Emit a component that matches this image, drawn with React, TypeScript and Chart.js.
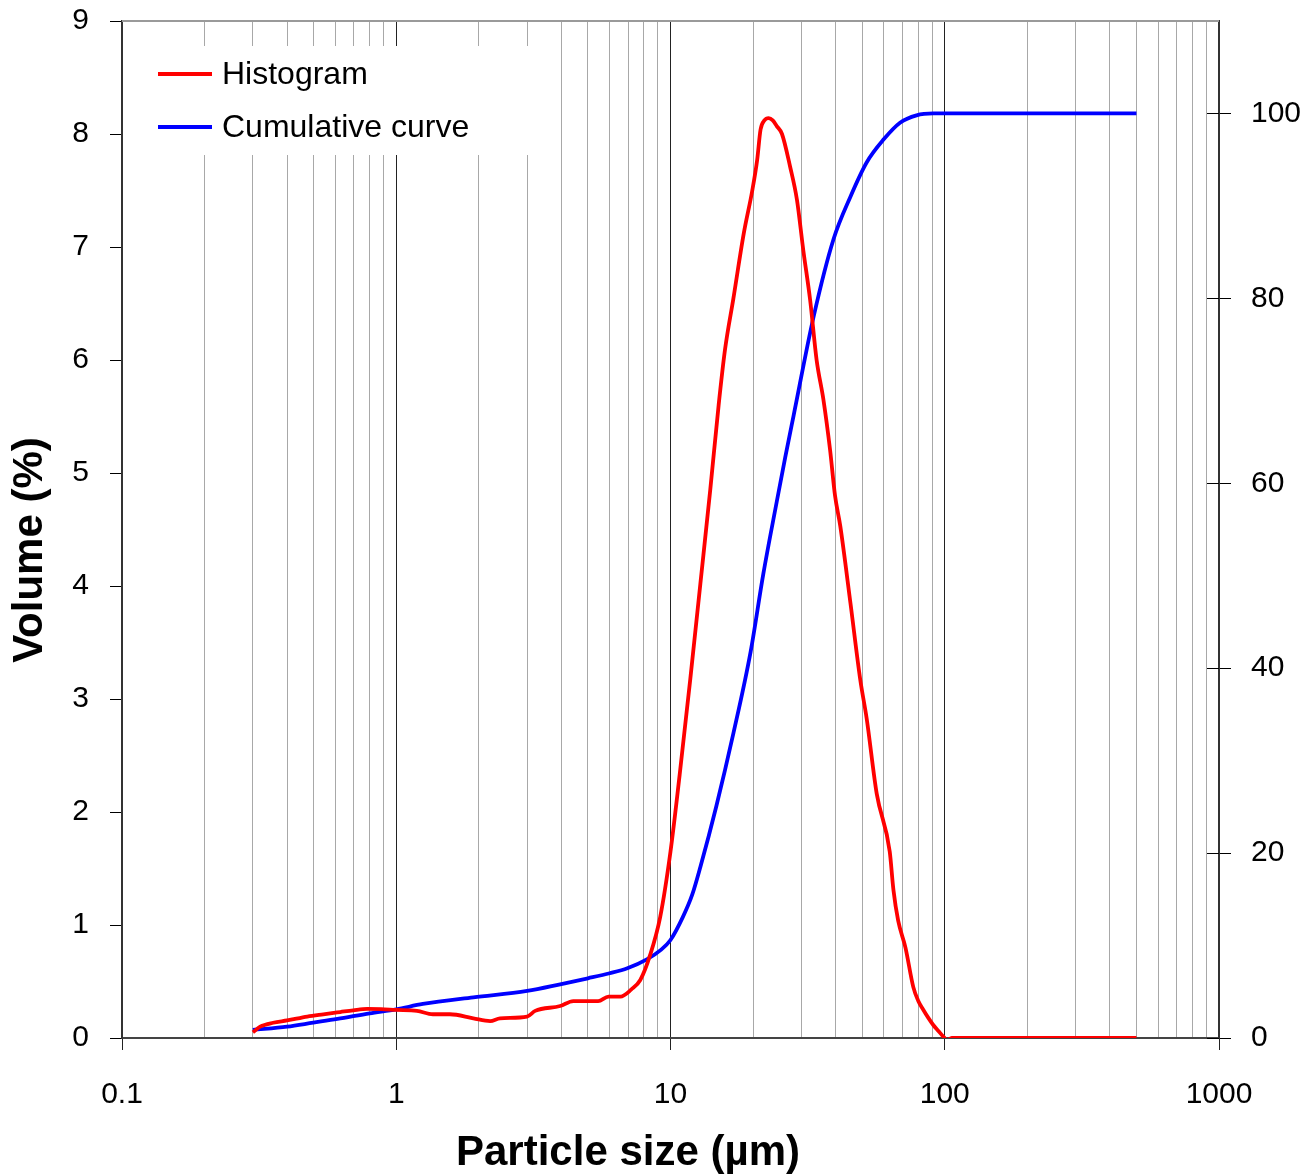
import React, { useEffect, useRef } from "react";
import { Chart, registerables } from "chart.js";

Chart.register(...registerables);

// Particle size (µm) and volume (%) for the histogram
const histSize = [0.3, 0.319, 0.356, 0.4, 0.474, 0.542, 0.625, 0.697, 0.784, 0.88, 1.0, 1.19, 1.36, 1.57, 1.91, 2.2, 2.39, 3.0, 3.21, 3.96, 4.42, 5.45, 5.94, 6.57, 7.2, 7.76, 8.43, 9.17, 10.0, 10.8, 11.8, 12.85, 13.96, 14.98, 15.8, 16.97, 18.5, 19.87, 20.7, 21.3, 22.0, 22.8, 23.6, 24.4, 25.5, 27.3, 28.9, 30.5, 32.3, 34.1, 36.1, 38.2, 39.8, 41.6, 45.3, 49.2, 51.9, 56.5, 63.0, 65.0, 67.6, 71.9, 76.8, 80.0, 83.5, 87.0, 90.8, 95.0, 99.0, 102.0, 106.0, 150.0, 250.0, 500.0];
const histVolume = [0.05, 0.1, 0.135, 0.155, 0.19, 0.21, 0.23, 0.245, 0.257, 0.255, 0.248, 0.24, 0.21, 0.21, 0.174, 0.15, 0.174, 0.19, 0.24, 0.283, 0.327, 0.327, 0.366, 0.366, 0.43, 0.513, 0.735, 1.07, 1.65, 2.33, 3.17, 4.02, 4.85, 5.6, 6.09, 6.55, 7.12, 7.5, 7.77, 8.04, 8.12, 8.14, 8.12, 8.07, 8.0, 7.71, 7.42, 6.97, 6.53, 6.0, 5.65, 5.2, 4.8, 4.53, 3.85, 3.17, 2.83, 2.16, 1.65, 1.31, 1.04, 0.8, 0.45, 0.33, 0.25, 0.18, 0.115, 0.06, 0.01, -0.02, 0.0, 0.0, 0.0, 0.0];

// Particle size (µm) and cumulative volume (%)
const cumSize = [0.3, 0.4, 0.498, 0.61, 0.8, 1.0, 1.25, 1.91, 3.0, 3.96, 5.0, 6.0, 6.96, 8.2, 9.2, 10.0, 11.1, 12.0, 12.85, 14.7, 16.97, 19.6, 21.8, 24.4, 26.2, 28.1, 33.3, 39.3, 45.3, 51.9, 59.9, 68.7, 78.9, 90.8, 150.0, 250.0, 500.0];
const cumVolume = [0.87, 1.23, 1.66, 2.06, 2.67, 3.1, 3.68, 4.4, 5.09, 5.81, 6.46, 7.0, 7.54, 8.5, 9.5, 10.6, 13.1, 15.5, 18.5, 25.1, 33.0, 41.8, 50.2, 58.0, 62.8, 67.3, 78.1, 86.4, 91.0, 94.7, 97.2, 99.0, 99.8, 100.0, 100.0, 100.0, 100.0];

// Axis ticks
const xGridValues = [0.1, 0.2, 0.3, 0.4, 0.5, 0.6, 0.7, 0.8, 0.9, 1, 2, 3, 4, 5, 6, 7, 8, 9, 10, 20, 30, 40, 50, 60, 70, 80, 90, 100, 200, 300, 400, 500, 600, 700, 800, 900, 1000];
const xTickLabels = ["0.1", "1", "10", "100", "1000"];
const yLeftTicks = [0, 1, 2, 3, 4, 5, 6, 7, 8, 9];
const yRightTicks = [0, 20, 40, 60, 80, 100];

const seriesNames = ["Histogram", "Cumulative curve"];
const FONT = "'Liberation Sans', Arial, Helvetica, sans-serif";

const isDecade = (v: number) => {
  const l = Math.log10(v);
  return Math.abs(l - Math.round(l)) < 1e-9;
};

const extrasPlugin = {
  id: "extras",
  afterDraw(chart: any) {
    const { ctx, chartArea } = chart;
    const y2 = chart.scales.y2;
    ctx.save();
    // top border
    ctx.strokeStyle = "#9a9a9a";
    ctx.lineWidth = 2;
    ctx.beginPath();
    ctx.moveTo(chartArea.left, chartArea.top);
    ctx.lineTo(chartArea.right, chartArea.top);
    ctx.stroke();
    // inner part of right-axis ticks
    ctx.strokeStyle = "#000";
    ctx.lineWidth = 1;
    for (const v of yRightTicks) {
      const py = Math.round(y2.getPixelForValue(v)) + 0.5;
      ctx.beginPath();
      ctx.moveTo(chartArea.right - 12, py);
      ctx.lineTo(chartArea.right, py);
      ctx.stroke();
    }
    // legend
    ctx.fillStyle = "#fff";
    ctx.fillRect(146, 46, 402, 109);
    const colors = ["#ff0000", "#0000ff"];
    const ys = [74, 127];
    ctx.font = `32px ${FONT}`;
    ctx.textBaseline = "middle";
    ctx.textAlign = "left";
    for (let i = 0; i < 2; i++) {
      ctx.strokeStyle = colors[i];
      ctx.lineWidth = 4;
      ctx.beginPath();
      ctx.moveTo(158, ys[i]);
      ctx.lineTo(212, ys[i]);
      ctx.stroke();
      ctx.fillStyle = "#000";
      ctx.fillText(seriesNames[i], 222, ys[i] + 1);
    }
    // axis titles
    ctx.font = `bold 42px ${FONT}`;
    ctx.fillStyle = "#000";
    ctx.textAlign = "center";
    ctx.textBaseline = "alphabetic";
    ctx.fillText("Particle size (µm)", 628, 1165);
    ctx.translate(42, 550);
    ctx.rotate(-Math.PI / 2);
    ctx.fillText("Volume (%)", 0, 0);
    ctx.restore();
  },
};

export default function App() {
  const ref = useRef<HTMLCanvasElement | null>(null);
  useEffect(() => {
    if (!ref.current) return;
    Chart.defaults.font.family = FONT;
    const chart = new Chart(ref.current, {
      type: "line",
      data: {
        datasets: [
          {
            label: seriesNames[0],
            data: histSize.map((x, i) => ({ x, y: histVolume[i] })),
            borderColor: "#ff0000",
            borderWidth: 3.8,
            pointRadius: 0,
            cubicInterpolationMode: "monotone",
            yAxisID: "y",
          },
          {
            label: seriesNames[1],
            data: cumSize.map((x, i) => ({ x, y: cumVolume[i] })),
            borderColor: "#0000ff",
            borderWidth: 3.8,
            pointRadius: 0,
            cubicInterpolationMode: "monotone",
            yAxisID: "y2",
          },
        ],
      },
      options: {
        animation: false,
        responsive: false,
        maintainAspectRatio: false,
        layout: { padding: { top: 21, left: 0, right: 0, bottom: 0 } },
        plugins: { legend: { display: false }, tooltip: { enabled: false } },
        scales: {
          x: {
            type: "logarithmic",
            min: 0.1,
            max: 1000,
            afterBuildTicks: (scale: any) => {
              scale.ticks = xGridValues.map((v) => ({ value: v, major: isDecade(v) }));
            },
            afterFit: (scale: any) => {
              scale.height = 138;
              scale.paddingLeft = 0;
              scale.paddingRight = 0;
            },
            ticks: {
              autoSkip: false,
              maxRotation: 0,
              padding: 27,
              color: "#000",
              font: { size: 30 },
              callback: (v: any) => {
                const n = Number(v);
                if (!isDecade(n)) return "";
                const idx = Math.round(Math.log10(n)) + 1;
                return xTickLabels[idx];
              },
            },
            grid: {
              color: (c: any) => (c.tick && isDecade(c.tick.value) ? "#222" : "#a8a8a8"),
              tickColor: (c: any) => (c.tick && isDecade(c.tick.value) ? "#222" : "rgba(0,0,0,0)"),
              lineWidth: 1,
              tickLength: 12,
            },
            border: { color: "#444", width: 2 },
          },
          y: {
            type: "linear",
            position: "left",
            min: 0,
            max: 9,
            afterBuildTicks: (scale: any) => {
              scale.ticks = yLeftTicks.map((v) => ({ value: v }));
            },
            afterFit: (scale: any) => {
              scale.width = 122;
              scale.paddingTop = 0;
              scale.paddingBottom = 0;
            },
            ticks: { padding: 21, color: "#000", font: { size: 30 } },
            grid: { drawOnChartArea: false, tickLength: 12, color: "#000" },
            border: { color: "#333", width: 2 },
          },
          y2: {
            type: "linear",
            position: "right",
            min: 0,
            max: 110,
            afterBuildTicks: (scale: any) => {
              scale.ticks = yRightTicks.map((v) => ({ value: v }));
            },
            afterFit: (scale: any) => {
              scale.width = 97;
              scale.paddingTop = 0;
              scale.paddingBottom = 0;
            },
            ticks: { padding: 20, color: "#000", font: { size: 30 } },
            grid: { drawOnChartArea: false, tickLength: 12, color: "#000" },
            border: { color: "#333", width: 2 },
          },
        },
      },
      plugins: [extrasPlugin],
    } as any);
    return () => chart.destroy();
  }, []);
  return (
    <div style={{ position: "absolute", left: 0, top: 0, width: 1316, height: 1176, background: "#fff" }}>
      <canvas ref={ref} width={1316} height={1176} style={{ width: 1316, height: 1176, display: "block" }} />
    </div>
  );
}
